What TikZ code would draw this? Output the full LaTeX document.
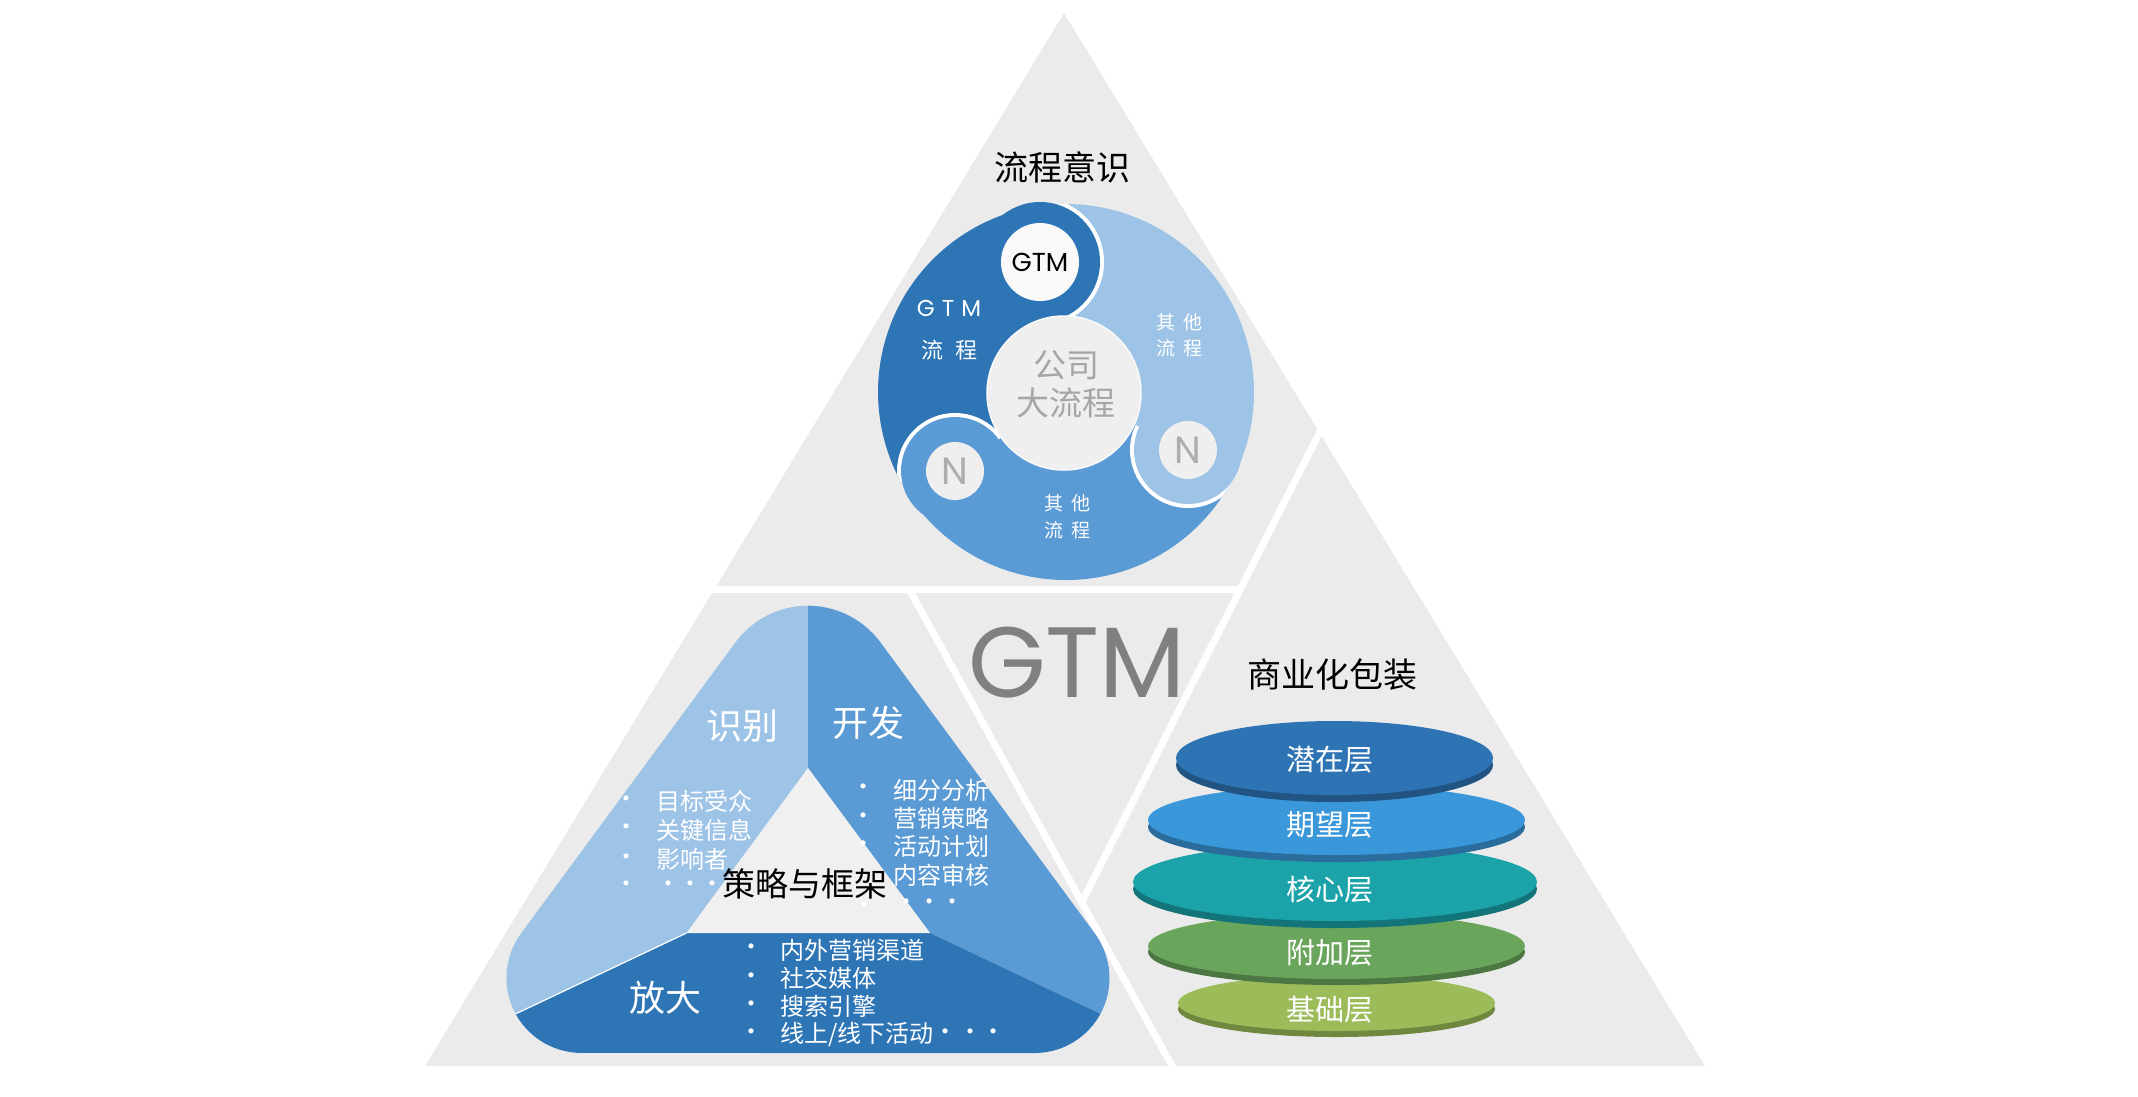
\documentclass[tikz,border=0pt]{standalone}
\usepackage{fontspec}
\newfontfamily\cjk{Noto Sans CJK SC}
\newfontfamily\geo{Poppins}
\usetikzlibrary{calc}
\definecolor{bggray}{HTML}{EBEBEB}
\definecolor{innergray}{HTML}{F0F0F0}
\definecolor{cdark}{HTML}{2E75B6}
\definecolor{cmed}{HTML}{5B9BD5}
\definecolor{clight}{HTML}{9DC3E6}
\definecolor{ccenter}{HTML}{EFEFEF}
\definecolor{ctextgray}{HTML}{A6A6A6}
\definecolor{ngray}{HTML}{ADADAD}
\definecolor{bigGTM}{HTML}{808080}
\definecolor{lay1}{HTML}{2E74B5}
\definecolor{lay2}{HTML}{3A97D9}
\definecolor{lay3}{HTML}{1BA3A9}
\definecolor{lay4}{HTML}{6AA55C}
\definecolor{lay5}{HTML}{9CBB59}
\newcommand{\fs}[1]{\fontsize{#1}{#1}\selectfont}
\newcommand{\layerdisc}[6]{%
  \fill[#6!72!black] (#1,-#2-#5) ellipse[x radius=#3, y radius=#4];
  \fill[#6] (#1,-#2) ellipse[x radius=#3, y radius=#4];}
\begin{document}
\begin{tikzpicture}[x=1pt,y=1pt,
  sep/.style={draw=white, line width=7pt, line cap=round},
  txt/.style={inner sep=0pt, font=\cjk\fs{#1}},
  wtxt/.style={txt=#1, text=white},
  btxt/.style={txt=#1, text=black},
  bul/.style={inner sep=0pt, font=\cjk\fs{24}, text=white},
  item/.style={inner sep=0pt, font=\cjk\fs{24}, text=white, anchor=west},
  dotm/.style={inner sep=0pt, font=\cjk\fs{24}, text=white},
  headcirc/.style={circle, inner sep=0pt, minimum size=#1},
  laytxt/.style={wtxt=29}]
\useasboundingbox (0,0) rectangle (2138,-1096);

% ---------- background triangle ----------
\fill[bggray] (1064,-13) -- (425,-1066) -- (1705,-1066) -- cycle;
\coordinate (hl) at (690,-589);
\coordinate (hr) at (1240,-589);
\coordinate (d1a) at (1335,-402);
\coordinate (d1b) at (1082,-902);
\coordinate (d2a) at (909,-589);
\coordinate (d2b) at (1178,-1077);
\draw[sep] (hl) -- (hr);
\draw[sep] (d1a) -- (d1b);
\draw[sep] (d2a) -- (d2b);

% ---------- cycle diagram ----------
\coordinate (O) at (1066,-392);
\coordinate (HG) at (1040,-262);
\coordinate (HR) at (1188,-450);
\coordinate (HL) at (955,-471);
\fill[cdark] ($(O)+(101.3:188)$) arc[start angle=101.3, end angle=215.1, radius=188pt]
  -- ($(O)+(215.1:70)$) arc[start angle=215.1, end angle=101.3, radius=70pt] -- cycle;
\fill[cmed] ($(O)+(215.1:188)$) arc[start angle=215.1, end angle=334.6, radius=188pt]
  -- ($(O)+(334.6:70)$) arc[start angle=334.6, end angle=215.1, radius=70pt] -- cycle;
\fill[clight] ($(O)+(334.6:188)$) arc[start angle=334.6, end angle=461.3, radius=188pt]
  -- ($(O)+(461.3:70)$) arc[start angle=461.3, end angle=334.6, radius=70pt] -- cycle;
% heads with white notches
\begin{scope}
  \clip (O) circle[radius=188pt];
  \clip (O) -- ($(O)+(101.3:300)$) -- ($(O)+(56.3:420)$) -- ($(O)+(11.3:300)$) -- cycle;
  \fill[white] (HG) circle[radius=64pt];
\end{scope}
\fill[cdark] (HG) circle[radius=60pt];
\begin{scope}
  \clip (O) circle[radius=188pt];
  \clip (O) -- ($(O)+(215.1:300)$) -- ($(O)+(170.1:420)$) -- ($(O)+(125.1:300)$) -- cycle;
  \fill[white] (HL) circle[radius=58pt];
\end{scope}
\fill[cmed] (HL) circle[radius=54pt];
\begin{scope}
  \clip (O) circle[radius=188pt];
  \clip (O) -- ($(O)+(334.6:300)$) -- ($(O)+(289.6:420)$) -- ($(O)+(244.6:300)$) -- cycle;
  \fill[white] (HR) circle[radius=58pt];
\end{scope}
\fill[clight] (HR) circle[radius=54pt];
% centre
\node[circle, fill=ccenter, draw=white!60!ccenter, line width=1.5pt, minimum size=154pt, inner sep=0pt] (ctr) at (1064,-393) {};
\node[txt=33, text=ctextgray] (ctr1) at (1066,-365) {公司};
\node[txt=33, text=ctextgray] (ctr2) at (1066,-403) {大流程};
\node[headcirc=78pt, fill=white!60!ccenter, font=\geo\fs{26}, text=black] (gtmc) at (HG) {GTM};
\node[headcirc=58pt, fill=ccenter, font=\geo\fs{38}, text=ngray] (nr) at (HR) {N};
\node[headcirc=58pt, fill=ccenter, font=\geo\fs{38}, text=ngray] (nl) at (HL) {N};
% segment labels
\node[inner sep=0pt, font=\geo\fs{23}, text=white] (lg1) at (949,-308) {G\hspace{7pt}T\hspace{7pt}M};
\node[wtxt=22] (lg2) at (949,-350) {流\hspace{12pt}程};
\node[wtxt=19] (lr1) at (1179,-322) {其\hspace{8pt}他};
\node[wtxt=19] (lr2) at (1179,-348) {流\hspace{8pt}程};
\node[wtxt=19] (lb1) at (1067,-503) {其\hspace{8pt}他};
\node[wtxt=19] (lb2) at (1067,-530) {流\hspace{8pt}程};
\node[btxt=34] (title1) at (1062,-167) {流程意识};

% ---------- strategy triangle ----------
\begin{scope}
  \clip (808,-1053) -- (1034.5,-1053) arc[start angle=-90, end angle=36.4, radius=75pt]
    -- (880.4,-642.3) arc[start angle=36.4, end angle=143.6, radius=90pt]
    -- (521.1,-933.4) arc[start angle=143.6, end angle=270, radius=75pt] -- cycle;
  \fill[clight] (808,-768) -- (808,-500) -- (407.6,-1065) -- (686.5,-933) -- cycle;
  \fill[cmed] (808,-768) -- (808,-500) -- (1208.3,-1065) -- (930,-933) -- cycle;
  \fill[cdark] (686.5,-933) -- (407.6,-1065) -- (407.6,-1080) -- (1208.3,-1080) -- (1208.3,-1065) -- (930,-933) -- cycle;
  \draw[white, line width=1.2pt] (686.5,-933) -- (407.6,-1065);
\end{scope}
\fill[innergray] (808,-768) -- (686.5,-933) -- (930,-933) -- cycle;
\node[wtxt=36] (shibie) at (742.5,-726) {识别};
\node[wtxt=36] (kaifa) at (868.3,-723) {开发};
\node[wtxt=36] (fangda) at (665,-997.5) {放大};
% left list
\foreach \y/\t [count=\i] in {801.7/{目标受众}, 830/{关键信息}, 859.3/{影响者}}{
  \node[bul] (lb\i) at (626,-\y) {•};
  \node[item] (li\i) at (656.7,-\y) {\t};}
\node[bul] (lb4) at (626,-886.7) {•};
\foreach \x [count=\i] in {668,690,712}{\node[dotm] (ld\i) at (\x,-886.7) {·};}
% right list
\foreach \y/\t [count=\i] in {790/{细分分析}, 818.3/{营销策略}, 846.7/{活动计划}}{
  \node[bul] (rb\i) at (863.3,-\y) {•};
  \node[item] (ri\i) at (893.3,-\y) {\t};}
\node[item] (ri4) at (893.3,-875) {内容审核};
\node[bul] (rb5) at (864,-907.5) {•};
\foreach \x [count=\i] in {906,929,952}{\node[dotm] (rd\i) at (\x,-905) {·};}
% bottom list
\foreach \y/\t [count=\i] in {950/{内外营销渠道}, 978.3/{社交媒体}, 1006.7/{搜索引擎}, 1035/{线上/线下活动}}{
  \node[bul] (bb\i) at (751.7,-\y) {•};
  \node[item] (bi\i) at (780,-\y) {\t};}
\foreach \x [count=\i] in {945,970,993}{\node[dotm] (bd\i) at (\x,-1035) {·};}
\node[btxt=33] (clyk) at (805.3,-884) {策略与框架};

% ---------- centre GTM ----------
\node[inner sep=0pt, font=\geo\fs{100}, text=bigGTM] (bigG) at (1077,-663) {GTM};

% ---------- layers ----------
\node[btxt=34] (title3) at (1332,-675) {商业化包装};
\layerdisc{1336.5}{1003}{158.5}{28}{6}{lay5}
\node[laytxt] (L5) at (1330,-1010) {基础层};
\layerdisc{1336.5}{946}{188.5}{33}{6}{lay4}
\node[laytxt] (L4) at (1330,-953) {附加层};
\layerdisc{1335}{882}{202}{39}{7}{lay3}
\node[laytxt] (L3) at (1330,-890) {核心层};
\layerdisc{1336.5}{820}{188.5}{35}{7}{lay2}
\node[laytxt] (L2) at (1330,-825) {期望层};
\layerdisc{1334.5}{758}{158.5}{37}{7}{lay1}
\node[laytxt] (L1) at (1330,-760) {潜在层};
\end{tikzpicture}
\end{document}
